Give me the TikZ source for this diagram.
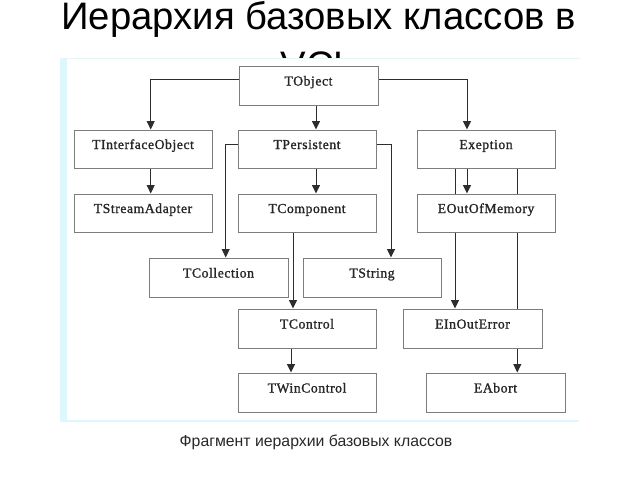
\documentclass[tikz,border=0pt]{standalone}
\usepackage{fontspec}
\setmainfont{Liberation Serif}
\newfontfamily\boxfont[LetterSpace=4, FakeBold=1.2]{Liberation Serif}
\newfontfamily\sansf{Liberation Sans}
\usetikzlibrary{arrows.meta}
\pgfdeclarelayer{bottom}
\pgfdeclarelayer{background}
\pgfsetlayers{bottom,background,main}
\definecolor{boxgray}{RGB}{125,125,125}
\definecolor{linegray}{RGB}{45,45,45}
\definecolor{stripcyan}{RGB}{222,246,253}
\definecolor{edgecyan}{RGB}{232,245,246}
\definecolor{captiongray}{RGB}{40,40,40}
\begin{document}
\begin{tikzpicture}[x=1pt,y=-1pt,
  cls/.style={draw=boxgray, line width=1pt, fill=white, minimum width=138pt,
    minimum height=38pt, inner sep=0pt, text height=8pt, text depth=8pt,
    font=\boxfont\fontsize{13.7}{16}\selectfont, text=black!85},
  conn/.style={draw=linegray, line width=1pt},
  arr/.style={conn, -{Triangle[length=8.5pt,width=8pt]}}
]
\useasboundingbox (0,0) rectangle (640,480);
\begin{pgfonlayer}{bottom}
\fill[white] (0,0) rectangle (640,480);
% title
\node[anchor=base, font=\sansf\fontsize{38.3}{44}\selectfont, inner sep=0pt] (title1) at (318.5,29.3) {Иерархия базовых классов в};
\node[anchor=base, font=\sansf\fontsize{38.3}{44}\selectfont, inner sep=0pt] (title2) at (318,78.5) {VCL};
% panel
\fill[white] (60,58) rectangle (581,421.5);
\fill[stripcyan] (60,58) rectangle (66.5,421.5);
\draw[edgecyan, line width=1.2pt] (60,58.6) -- (580,58.6);
\draw[stripcyan, line width=1.2pt] (60,421) -- (579,421);
\end{pgfonlayer}
% nodes
\node[cls, minimum width=139pt, minimum height=39pt] (TObject) at (308.5,85.5) {TObject};
\node[cls] (TInterfaceObject) at (143,149) {TInterfaceObject};
\node[cls] (TPersistent) at (307,149) {TPersistent};
\node[cls] (Exeption) at (486,149) {Exeption};
\node[cls] (TStreamAdapter) at (143,213) {TStreamAdapter};
\node[cls] (TComponent) at (307,213) {TComponent};
\node[cls] (EOutOfMemory) at (486,213) {EOutOfMemory};
\node[cls, minimum width=139pt, minimum height=39pt] (TCollection) at (218.5,277.5) {TCollection};
\node[cls, minimum height=39pt] (TString) at (372,277.5) {TString};
\node[cls, minimum height=39pt] (TControl) at (307,328.5) {TControl};
\node[cls, minimum width=139pt, minimum height=39pt] (EInOutError) at (472.5,328.5) {EInOutError};
\node[cls, minimum height=39pt] (TWinControl) at (307,392.5) {TWinControl};
\node[cls, minimum width=139pt, minimum height=39pt] (EAbort) at (495.5,392.5) {EAbort};
% connectors
\begin{pgfonlayer}{background}
\draw[arr] ([yshift=6.5pt]TObject.west) -| ([xshift=7.7pt]TInterfaceObject.north);
\draw[arr] ([yshift=6.5pt]TObject.east) -| ([xshift=-19pt]Exeption.north);
\draw[arr] ([xshift=9pt]TPersistent.north |- TObject.south) -- ([xshift=9pt]TPersistent.north);
\draw[arr] ([xshift=7.7pt]TInterfaceObject.south) -- ([xshift=7.7pt]TStreamAdapter.north);
\draw[arr] ([xshift=9pt]TPersistent.south) -- ([xshift=9pt]TComponent.north);
\draw[arr] ([yshift=5pt]TPersistent.west) -| ([xshift=7.2pt]TCollection.north);
\draw[arr] ([yshift=5pt]TPersistent.east) -| ([xshift=19pt]TString.north);
\draw[arr] ([xshift=-19pt]Exeption.south) -- ([xshift=-19pt]EOutOfMemory.north);
\draw[arr] ([xshift=-17.5pt]EInOutError.north |- Exeption.south) -- ([xshift=-17.5pt]EInOutError.north);
\draw[arr] ([xshift=21.8pt]EAbort.north |- Exeption.south) -- ([xshift=21.8pt]EAbort.north);
\draw[arr] ([xshift=-14pt]TComponent.south) -- ([xshift=-14pt]TComponent.south |- TControl.north);
\draw[arr] ([xshift=-16pt]TControl.south) -- ([xshift=-16pt]TControl.south |- TWinControl.north);
\end{pgfonlayer}
% caption
\node[anchor=base, font=\sansf\fontsize{15.8}{18}\selectfont, text=captiongray, inner sep=0pt] (caption) at (316,446.5) {Фрагмент иерархии базовых классов};
\end{tikzpicture}
\end{document}
